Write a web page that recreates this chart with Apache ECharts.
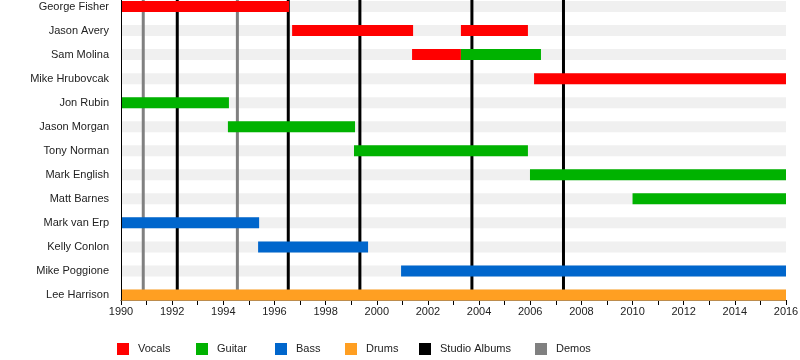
<!DOCTYPE html>
<html>
<head>
<meta charset="utf-8">
<script src="https://cdn.jsdelivr.net/npm/echarts@6/dist/echarts.min.js"></script>
<style>html,body{margin:0;padding:0;background:#fff;}#c{width:800px;height:360px;}</style>
</head>
<body>
<div id="c"></div>
<script>
var members = ['George Fisher','Jason Avery','Sam Molina','Mike Hrubovcak','Jon Rubin','Jason Morgan','Tony Norman','Mark English','Matt Barnes','Mark van Erp','Kelly Conlon','Mike Poggione','Lee Harrison'];
// [member, start, end]
var vocals = [['George Fisher',1990,1996.57],['Jason Avery',1996.69,2001.42],['Jason Avery',2003.29,2005.91],['Sam Molina',2001.38,2003.29],['Mike Hrubovcak',2006.15,2016]];
var guitar = [['Sam Molina',2003.29,2006.42],['Jon Rubin',1990,1994.22],['Jason Morgan',1994.18,1999.15],['Tony Norman',1999.11,2005.91],['Mark English',2005.99,2016],['Matt Barnes',2010,2016]];
var bass = [['Mark van Erp',1990,1995.40],['Kelly Conlon',1995.36,1999.66],['Mike Poggione',2000.95,2016]];
var drums = [['Lee Harrison',1990,2016]];
var studioAlbums = [1992.2,1996.54,1999.34,2003.72,2007.3];
var demos = [1990.87,1994.55];
var xMin = 1990, xMax = 2016, xStep = 2;

var FONT = 'Liberation Sans, Arial, sans-serif';
var BAR_H = 11;

function barRender(params, api) {
  var s = api.coord([api.value(1), api.value(0)]);
  var e = api.coord([api.value(2), api.value(0)]);
  return {type:'rect', shape:{x:s[0], y:s[1]-BAR_H/2, width:e[0]-s[0], height:BAR_H}, style:{fill:api.visual('color')}};
}
function lineRender(params, api) {
  var a = api.coord([api.value(0), 0]);
  var b = api.coord([api.value(0), 1]);
  return {type:'line', shape:{x1:a[0], y1:a[1], x2:b[0], y2:b[1]}, style:{stroke:api.visual('color'), lineWidth:3}};
}
function barSeries(name, color, arr) {
  return {name:name, type:'custom', xAxisIndex:0, yAxisIndex:0, z:5, itemStyle:{color:color},
    renderItem:barRender, encode:{x:[1,2], y:0}, data:arr};
}
function lineSeries(name, color, arr) {
  return {name:name, type:'custom', xAxisIndex:1, yAxisIndex:1, z:3, itemStyle:{color:color},
    renderItem:lineRender, encode:{x:0}, data:arr.map(function(v){return [v];})};
}

var legendPos = [['Vocals',117],['Guitar',196],['Bass',275],['Drums',345],['Studio Albums',419],['Demos',535]];

var chart = echarts.init(document.getElementById('c'), null, {renderer:'canvas'});
chart.setOption({
  animation:false,
  backgroundColor:'#fff',
  textStyle:{fontFamily:FONT},
  legend: legendPos.map(function(p){
    return {data:[p[0]], left:p[1], top:343, padding:0, itemWidth:12, itemHeight:12, icon:'rect', selectedMode:false,
      textStyle:{fontFamily:FONT, fontSize:11, color:'#222', padding:[0,0,0,4]}};
  }),
  grid:[
    {left:121, width:665, top:-5.5, height:312.5, outerBoundsMode:'none', containLabel:false},
    {left:121, width:665, top:0, height:300, outerBoundsMode:'none', containLabel:false}
  ],
  xAxis:[
    {gridIndex:0, type:'value', min:xMin, max:xMax, show:false},
    {gridIndex:1, type:'value', min:xMin, max:xMax, interval:xStep,
      axisLine:{show:true, lineStyle:{color:'#000', width:1}},
      axisTick:{show:true, length:5, lineStyle:{color:'#000'}},
      minorTick:{show:true, splitNumber:2, length:5, lineStyle:{color:'#000'}},
      splitLine:{show:false},
      axisLabel:{fontFamily:FONT, fontSize:11, color:'#222', margin:6, hideOverlap:false,
        formatter:function(v){return String(v);}}}
  ],
  yAxis:[
    {gridIndex:0, type:'category', data:members, inverse:true,
      axisLine:{show:false}, axisTick:{show:false}, splitLine:{show:false},
      axisLabel:{fontFamily:FONT, fontSize:11, color:'#222', margin:12, interval:0}},
    {gridIndex:1, type:'value', min:0, max:1, z:10, axisLabel:{show:false}, axisTick:{show:false}, splitLine:{show:false},
      axisLine:{show:true, lineStyle:{color:'#000', width:1}}}
  ],
  series:[
    {name:'bands', type:'custom', xAxisIndex:0, yAxisIndex:0, z:1, silent:true, itemStyle:{color:'#f0f0f0'},
      renderItem:barRender, encode:{x:[1,2], y:0},
      data:members.map(function(m){return [m, xMin, xMax];})},
    barSeries('Vocals','#ff0000',vocals),
    barSeries('Guitar','#00b200',guitar),
    barSeries('Bass','#0066cc',bass),
    barSeries('Drums','#ff9f22',drums),
    lineSeries('Studio Albums','#000000',studioAlbums),
    lineSeries('Demos','#808080',demos)
  ]
});
</script>
</body>
</html>
